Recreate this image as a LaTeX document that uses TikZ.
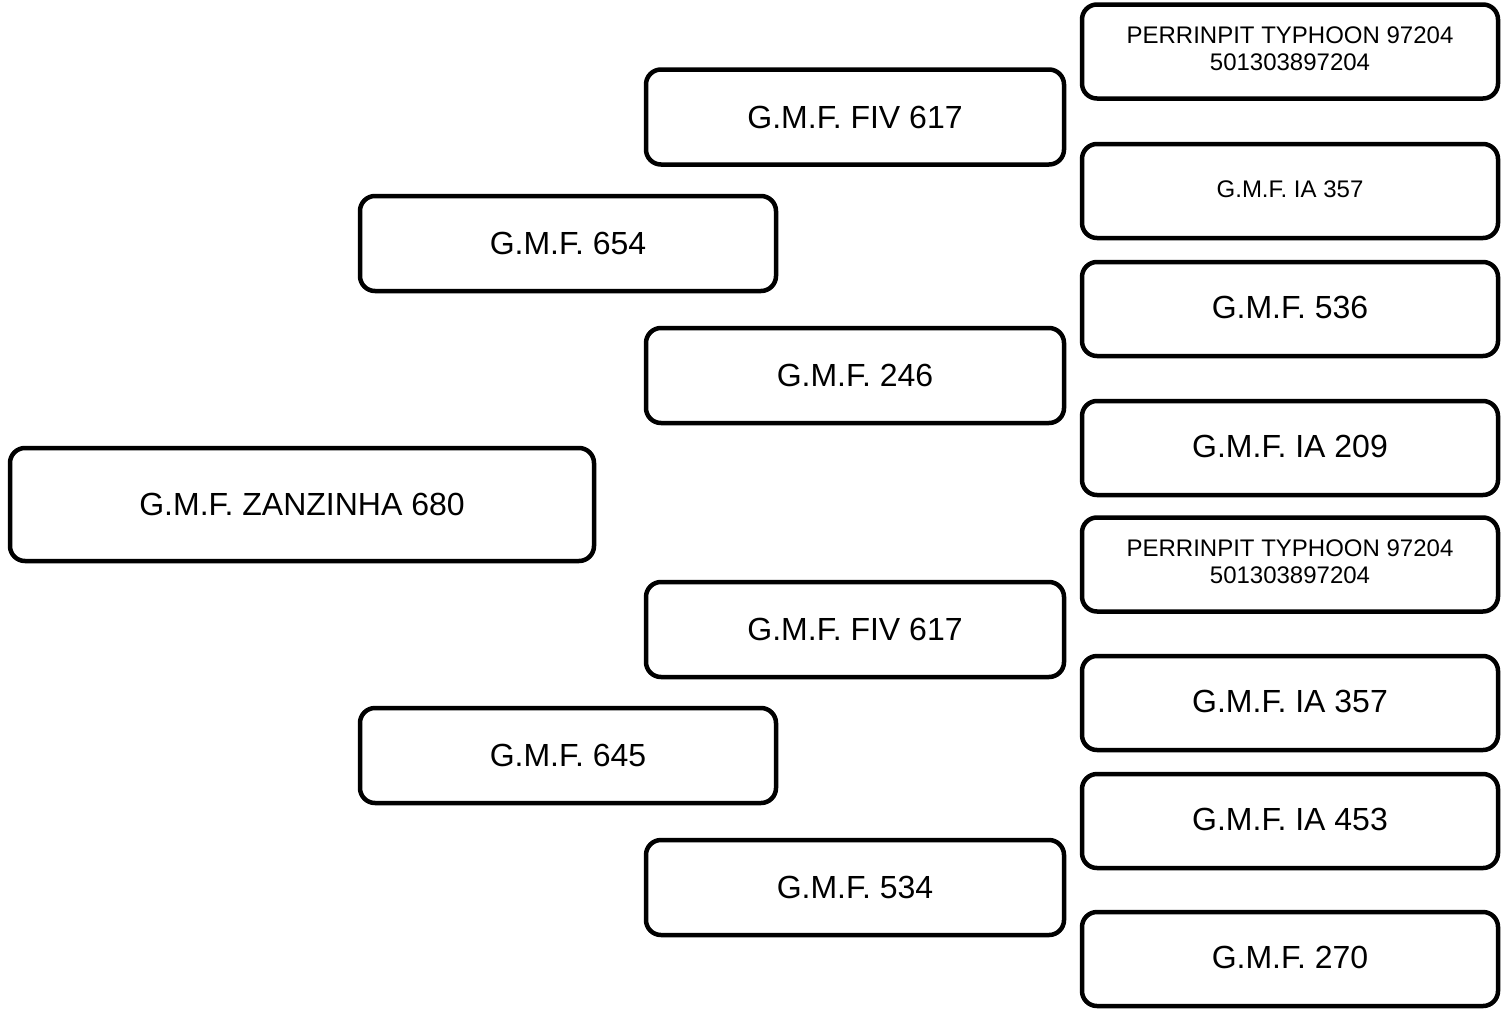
\documentclass[tikz,border=0pt]{standalone}
\usepackage{fontspec}
\setmainfont{Liberation Sans}
\begin{document}
\begin{tikzpicture}[x=1pt,y=-1pt,
  box/.style={draw=black, line width=4.5pt, rounded corners=15pt, fill=white,
    inner sep=0pt, outer sep=0pt, align=center, font=\fontsize{32}{36}\selectfont},
  small/.style={font=\fontsize{24}{27}\selectfont},
  g1/.style={minimum width=584pt, minimum height=113pt},
  g2/.style={minimum width=416pt, minimum height=95pt},
  g3/.style={minimum width=418pt, minimum height=95pt},
  g4/.style={minimum width=416pt, minimum height=94pt}]
\useasboundingbox (0,0) rectangle (1501,1009);
% generation 1
\node[box,g1] (p) at (302,504.5) {G.M.F. ZANZINHA 680};
% generation 2
\node[box,g2] (s) at (568,243.5) {G.M.F. 654};
\node[box,g2] (d) at (568,755.5) {G.M.F. 645};
% generation 3
\node[box,g3] (ss) at (855,117) {G.M.F. FIV 617};
\node[box,g3] (sd) at (855,375.5) {G.M.F. 246};
\node[box,g3] (ds) at (855,629.5) {G.M.F. FIV 617};
\node[box,g3] (dd) at (855,887.5) {G.M.F. 534};
% generation 4
\node[box,g4,small] (sss) at (1290,51.5) {PERRINPIT TYPHOON 97204\\501303897204\rule[-6pt]{0pt}{0pt}};
\node[box,g4,small] (ssd) at (1290,191) {G.M.F. IA 357\rule[-4pt]{0pt}{0pt}};
\node[box,g4] (sds) at (1290,309) {G.M.F. 536\rule[-4pt]{0pt}{0pt}};
\node[box,g4] (sdd) at (1290,448) {G.M.F. IA 209\rule[-4pt]{0pt}{0pt}};
\node[box,g4,small] (dss) at (1290,564.5) {PERRINPIT TYPHOON 97204\\501303897204\rule[-6pt]{0pt}{0pt}};
\node[box,g4] (dsd) at (1290,703) {G.M.F. IA 357\rule[-4pt]{0pt}{0pt}};
\node[box,g4] (dds) at (1290,821) {G.M.F. IA 453\rule[-4pt]{0pt}{0pt}};
\node[box,g4] (ddd) at (1290,959) {G.M.F. 270\rule[-4pt]{0pt}{0pt}};
\end{tikzpicture}
\end{document}
